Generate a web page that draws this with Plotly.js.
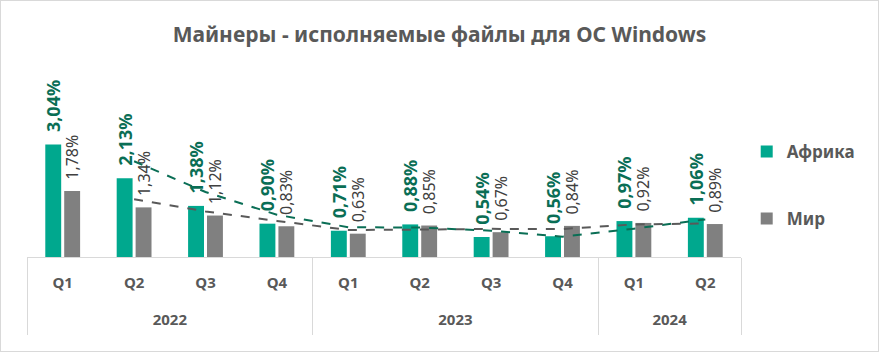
<!DOCTYPE html>
<html><head><meta charset="utf-8">
<script src="https://cdn.plot.ly/plotly-3.0.1.min.js"></script>
<style>html,body{margin:0;padding:0;background:#fff}
#wrap{width:879px;height:352px;box-sizing:border-box;border:1px solid #d9d9d9;}
</style></head>
<body><div id="wrap"><div id="chart"></div></div>
<script>
const years = ["2022","2022","2022","2022","2023","2023","2023","2023","2024","2024"];
const quarters = ["Q1","Q2","Q3","Q4","Q1","Q2","Q3","Q4","Q1","Q2"];
const africa = [3.04,2.13,1.38,0.90,0.71,0.88,0.54,0.56,0.97,1.06];
const world = [1.78,1.34,1.12,0.83,0.63,0.85,0.67,0.84,0.92,0.89];
// 2-period moving average trendlines, as drawn in the reference
const africaTrend = [null,2.585,1.755,1.14,0.805,0.795,0.71,0.55,0.765,1.015];
const worldTrend = [null,1.56,1.23,0.975,0.73,0.74,0.76,0.755,0.88,0.905];
const seriesNames = ["Африка","Мир"];
const titleText = "Майнеры - исполняемые файлы для ОС Windows";

// unique category keys for each period
const cats = quarters.map((q,i) => years[i] + ' ' + q);
// year groups: boundaries and centres (in category index units)
const groups = [];
years.forEach((y,i) => {
  if (!groups.length || groups[groups.length-1].year !== y) groups.push({year:y, start:i, end:i});
  else groups[groups.length-1].end = i;
});
const boundaries = [groups[0].start - 0.5].concat(groups.map(g => g.end + 0.5));
const centres = groups.map(g => (g.start + g.end) / 2);
const yearLabels = groups.map(g => g.year);

const NB = '\u00a0\u00a0';
const fmt = v => NB + v.toFixed(2).replace('.', ',') + '%';
const FONT = "Noto Sans, DejaVu Sans, sans-serif";
const GRID = '#d9d9d9';
const TXT = '#595959';

const traces = [
 {type:'bar', name:seriesNames[0], x:cats, y:africa, marker:{color:'#00A88E'},
  text:africa.map(fmt), textposition:'outside', textangle:-90, cliponaxis:false,
  constraintext:'none', textfont:{family:FONT, size:18, color:'#0A6E55', weight:'bold'},
  legendgroup:'a', hoverinfo:'none'},
 {type:'bar', name:seriesNames[1], x:cats, y:world, marker:{color:'#808080'},
  text:world.map(fmt), textposition:'outside', textangle:-90, cliponaxis:false,
  constraintext:'none', textfont:{family:FONT, size:16, color:'#404040'},
  legendgroup:'b', hoverinfo:'none'},
 {type:'scatter', mode:'lines', x:cats, y:africaTrend, showlegend:false,
  line:{color:'#0A6E55', width:2, dash:'dash'}, cliponaxis:false, hoverinfo:'none'},
 {type:'scatter', mode:'lines', x:cats, y:worldTrend, showlegend:false,
  line:{color:'#595959', width:2, dash:'dash'}, cliponaxis:false, hoverinfo:'none'},
 // empty helper traces so the divider / year axes are drawn
 {type:'scatter', mode:'lines', x:boundaries, y:boundaries.map(() => null), xaxis:'x2',
  showlegend:false, hoverinfo:'none'},
 {type:'scatter', mode:'lines', x:centres, y:centres.map(() => null), xaxis:'x3',
  showlegend:false, hoverinfo:'none'}
];

const layout = {
 width:877, height:350,
 margin:{l:26, r:137, t:59, b:94},
 paper_bgcolor:'#fff', plot_bgcolor:'#fff',
 title:{text:titleText, x:0.5, xanchor:'center', y:0.905, yanchor:'middle',
   font:{family:FONT, size:21, color:TXT, weight:'bold'}},
 barmode:'group', bargap:0.47, bargroupgap:0.16,
 showlegend:true,
 legend:{x:1.008, xanchor:'left', y:0.625, yanchor:'top', traceorder:'grouped', tracegroupgap:42,
   font:{family:FONT, size:17, color:TXT, weight:'bold'}},
 xaxis:{type:'category', categoryarray:cats, categoryorder:'array',
   tickvals:cats, ticktext:quarters, showline:true, linecolor:GRID, linewidth:1,
   ticks:'outside', ticklen:12, tickcolor:'rgba(0,0,0,0)', showgrid:false, zeroline:false,
   tickfont:{family:FONT, size:15, color:TXT, weight:'bold'}},
 xaxis2:{overlaying:'x', anchor:'y', side:'bottom', type:'linear',
   range:[-0.5, cats.length - 0.5], tickvals:boundaries, showticklabels:false,
   ticks:'outside', ticklen:77, tickwidth:1, tickcolor:GRID, showgrid:false, zeroline:false, showline:false},
 xaxis3:{overlaying:'x', anchor:'y', side:'bottom', type:'linear',
   range:[-0.5, cats.length - 0.5], tickvals:centres, ticktext:yearLabels,
   ticks:'outside', ticklen:49, tickcolor:'rgba(0,0,0,0)', showgrid:false, zeroline:false, showline:false,
   tickfont:{family:FONT, size:15, color:TXT, weight:'bold'}},
 yaxis:{range:[0,5.32], visible:false, showgrid:false, zeroline:false},
 separators:', '
};
Plotly.newPlot('chart', traces, layout, {displayModeBar:false, staticPlot:true});
</script></body></html>
